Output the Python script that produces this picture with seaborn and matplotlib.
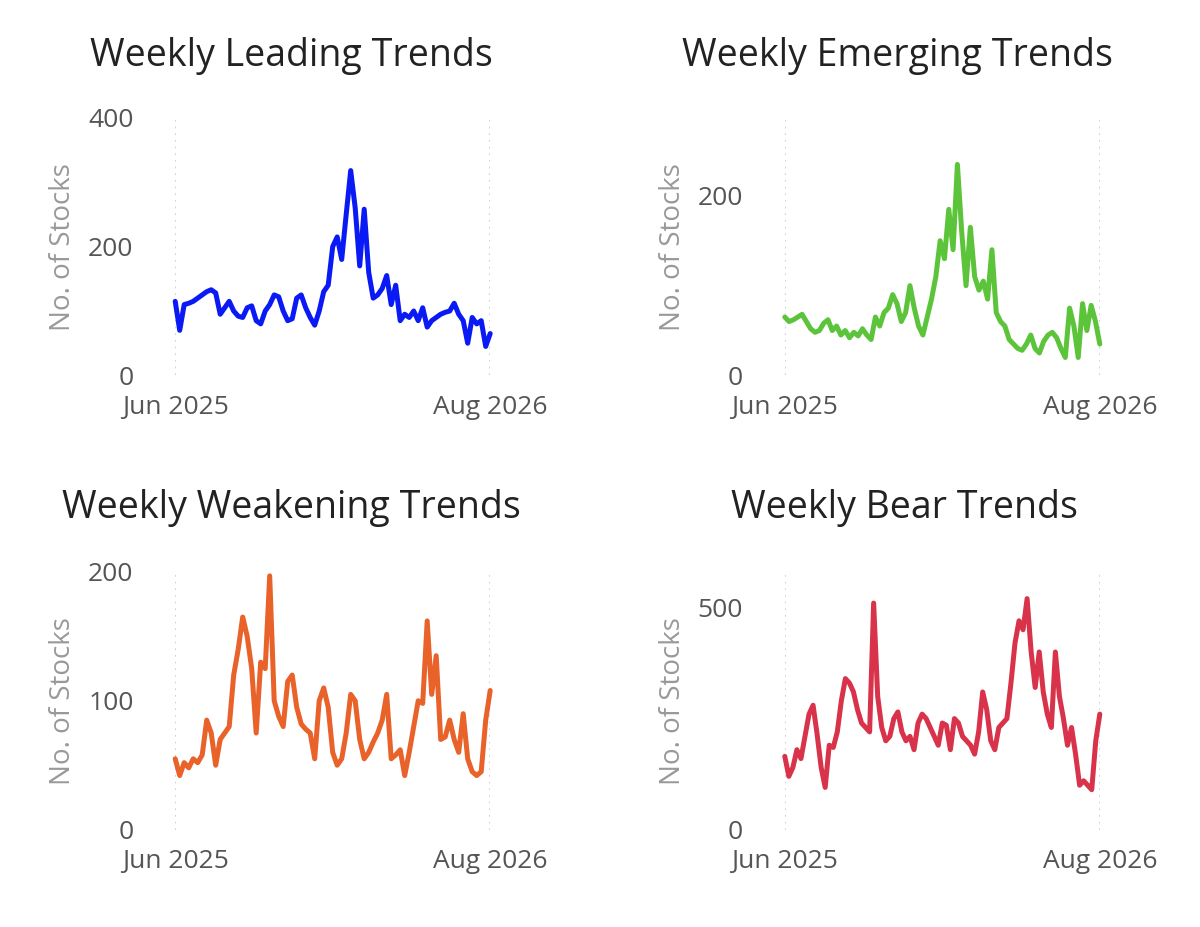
import numpy as np
import pandas as pd
import matplotlib
matplotlib.use("Agg")
import matplotlib.pyplot as plt
import seaborn as sb

leading = [115, 70, 110, 112, 115, 120, 125, 130, 133, 128, 95, 105, 115, 100, 92, 90, 105, 108, 85, 80,
           100, 110, 125, 122, 100, 85, 88, 120, 125, 105, 90, 78, 100, 130, 140, 200, 215, 180, 250, 318,
           260, 170, 258, 160, 120, 125, 135, 155, 110, 140, 85, 95, 90, 100, 85, 105, 75, 85, 90, 95,
           98, 100, 112, 95, 85, 50, 90, 80, 85, 45, 65]
emerging = [65, 60, 62, 65, 68, 60, 52, 48, 50, 58, 62, 50, 55, 45, 50, 42, 48, 44, 52, 45,
            40, 65, 55, 70, 75, 90, 80, 60, 70, 100, 75, 55, 45, 65, 85, 110, 150, 130, 185, 140,
            235, 160, 100, 165, 110, 95, 105, 85, 140, 70, 60, 55, 40, 35, 30, 28, 35, 45, 30, 25,
            38, 45, 48, 42, 30, 20, 75, 55, 20, 80, 50, 78, 60, 35]
weakening = [55, 42, 52, 48, 55, 52, 58, 85, 75, 50, 70, 75, 80, 120, 140, 165, 150, 125, 75, 130,
             125, 197, 100, 88, 80, 115, 120, 95, 82, 78, 75, 55, 100, 110, 95, 60, 50, 55, 75, 105,
             100, 70, 55, 60, 68, 75, 85, 105, 55, 58, 62, 42, 60, 80, 100, 98, 162, 105, 135, 70,
             72, 85, 70, 60, 90, 55, 45, 42, 45, 85, 108]
bear = [165, 120, 140, 180, 160, 210, 260, 280, 215, 140, 95, 190, 185, 220, 290, 340, 330, 310, 270, 240,
        230, 220, 510, 300, 230, 200, 210, 250, 265, 220, 200, 210, 180, 240, 260, 250, 230, 210, 190, 240,
        235, 180, 250, 240, 210, 200, 190, 170, 220, 310, 270, 200, 180, 230, 240, 250, 330, 420, 470, 450,
        520, 400, 320, 400, 310, 260, 230, 400, 300, 250, 190, 230, 170, 100, 110, 100, 90, 200, 260]

titles = ["Weekly Leading Trends", "Weekly Emerging Trends", "Weekly Weakening Trends", "Weekly Bear Trends"]
colors = ["#0A1AF5", "#5CC43A", "#E8622A", "#D8334A"]
yticks = [[0, 200, 400], [0, 200], [0, 100, 200], [0, 500]]
ylims = [400, 287, 200, 580]
start, end = pd.Timestamp("2025-06-01"), pd.Timestamp("2026-08-01")

sb.set_style("white")
plt.rcParams["font.family"] = ["Open Sans", "DejaVu Sans"]

fig = plt.figure(figsize=(12, 9.27), dpi=100)
pos = [(0.146, 0.595), (0.654, 0.595), (0.146, 0.105), (0.654, 0.105)]
title_xy = [(0.243, 0.94), (0.748, 0.94), (0.243, 0.452), (0.754, 0.452)]
series = [leading, emerging, weakening, bear]

for i, vals in enumerate(series):
    ax = fig.add_axes([pos[i][0], pos[i][1], 0.2625, 0.278])
    dates = pd.date_range(start, end, periods=len(vals))
    df = pd.DataFrame({"date": dates, "n": vals})
    sb.lineplot(data=df, x="date", y="n", ax=ax, color=colors[i], linewidth=3.6)
    for ln in ax.lines:
        ln.set_clip_on(False)
    ax.set_xlim(start, end)
    ax.set_ylim(0, ylims[i])
    ax.set_yticks(yticks[i])
    ax.set_xticks([start, end])
    ax.set_xticklabels(["Jun 2025", "Aug 2026"])
    ax.tick_params(axis="both", labelsize=19, colors="#555555", length=0)
    ax.tick_params(axis="x", pad=14)
    ax.tick_params(axis="y", pad=30)
    ax.set_xlabel("")
    ax.set_ylabel("No. of Stocks", fontsize=20, color="#999999", labelpad=8)
    for s in ax.spines.values():
        s.set_visible(False)
    ax.grid(False)
    for d in [start, end]:
        ax.axvline(d, color="#c8c8c8", linestyle=(0, (1, 3)), linewidth=1.2, zorder=0)
    fig.text(title_xy[i][0], title_xy[i][1], titles[i], fontsize=27, color="#222222",
             ha="center", va="center")

fig.savefig("out.png", dpi=100)
